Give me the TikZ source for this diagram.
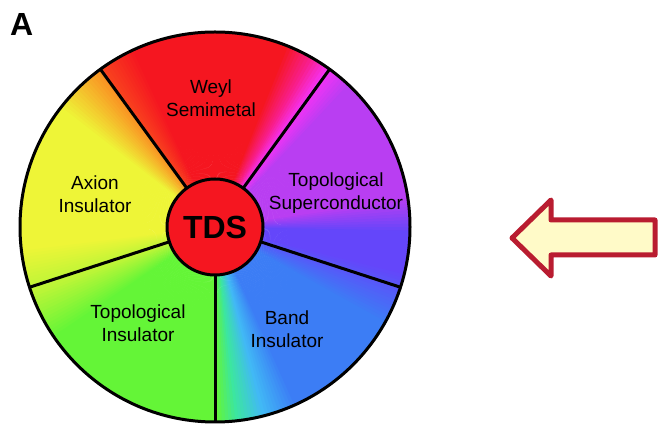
\documentclass[tikz,border=0pt]{standalone}
\usepackage{fontspec}
\setmainfont{Liberation Sans}
\usepackage{tikz}
\usetikzlibrary{positioning}

% wheel colours
\definecolor{wred}{RGB}{245,22,32}
\definecolor{wredorange}{RGB}{248,70,30}
\definecolor{worange}{RGB}{250,145,35}
\definecolor{wyellow}{RGB}{238,245,55}
\definecolor{wlime}{RGB}{185,245,55}
\definecolor{wgreen}{RGB}{100,245,55}
\definecolor{wteal}{RGB}{60,230,160}
\definecolor{wcyan}{RGB}{65,185,245}
\definecolor{wblue}{RGB}{60,125,245}
\definecolor{wviolet}{RGB}{100,70,250}
\definecolor{wpurple}{RGB}{185,62,242}
\definecolor{wmagenta}{RGB}{245,50,245}
\definecolor{wpink}{RGB}{248,30,140}
\definecolor{arrowfill}{RGB}{255,250,200}
\definecolor{arrowedge}{RGB}{185,28,48}

\tikzset{
  phase/.style={font=\fontsize{19}{23}\selectfont, align=center},
  divider/.style={line width=3pt},
}

\begin{document}
\begin{tikzpicture}[x=1pt,y=1pt]
\useasboundingbox (0,0) rectangle (664,425);
\coordinate (c) at (215,198);

% colour wheel, one thin wedge per degree
\foreach \a/\b/\ca/\cb in {-90/-84/wgreen/wteal, -84/-76/wteal/wcyan, -76/-66/wcyan/wblue,
    -66/-30/wblue/wblue, -30/-14/wblue/wviolet, -14/-2/wviolet/wviolet, -2/8/wviolet/wpurple,
    8/46/wpurple/wpurple, 46/54/wpurple/wmagenta, 54/60/wmagenta/wpink, 60/68/wpink/wred,
    68/114/wred/wred, 114/126/wred/wredorange, 126/142/worange/wyellow,
    142/186/wyellow/wyellow, 186/200/wyellow/wlime, 200/214/wlime/wgreen,
    214/270/wgreen/wgreen}{
  \pgfmathtruncatemacro{\n}{\b-\a-1}
  \foreach \i in {0,...,\n}{
    \pgfmathtruncatemacro{\p}{100-100*\i/(\b-\a)}
    \pgfmathsetmacro{\ang}{\a+\i}
    \fill[\ca!\p!\cb] (c) -- ++(\ang:195) arc[start angle=\ang, delta angle=1.4, radius=195] -- cycle;
  }
}
\foreach \ang in {54,126,198,270,342}
  \draw[divider] (c) -- ++(\ang:195);
\draw[line width=3pt] (c) circle[radius=195];

\node[circle, draw, line width=3pt, fill=wred, minimum size=96pt, inner sep=0pt,
  font=\bfseries\fontsize{32}{32}\selectfont] (tds) at (c) {TDS};

\node[phase] (weyl) at (211,327) {Weyl\\Semimetal};
\node[phase] (tsc) at (336,232) {Topological\\Superconductor};
\node[phase] (band) at (287,96) {Band\\Insulator};
\node[phase] (tins) at (138,102) {Topological\\Insulator};
\node[phase] (axion) at (95,231) {Axion\\Insulator};

\node[font=\bfseries\fontsize{32}{32}\selectfont, anchor=base west, inner sep=0pt]
  (panel) at (10,389) {A};

% big arrow pointing back at the wheel
\draw[line width=5pt, line join=round, draw=arrowedge, fill=arrowfill]
  (512,187) -- (551,225) -- (551,205) -- (655,205) -- (655,170) -- (551,170)
  -- (551,149) -- cycle;
\end{tikzpicture}
\end{document}
